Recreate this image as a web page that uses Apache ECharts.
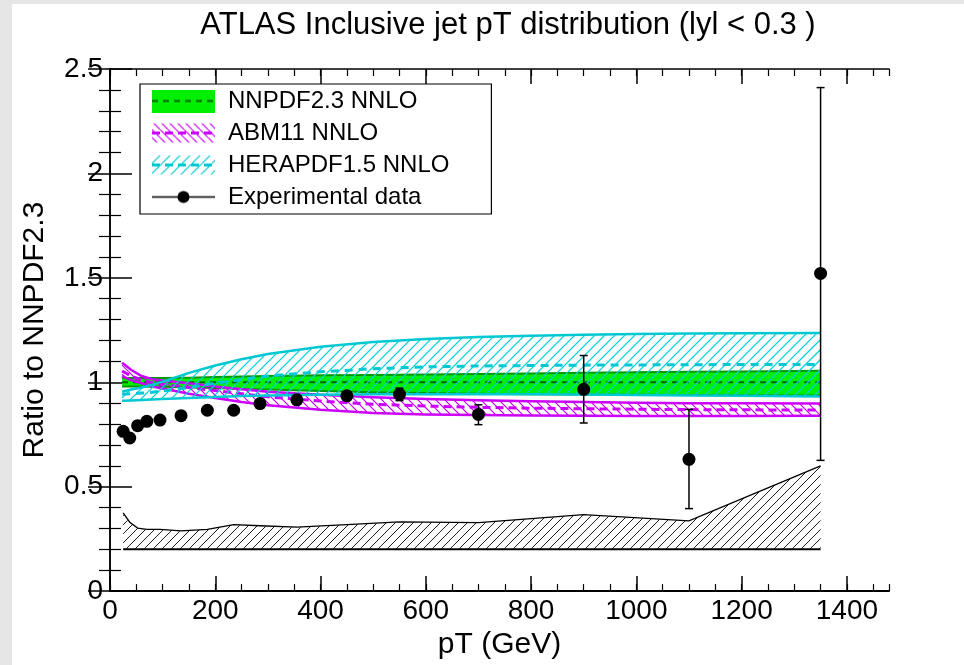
<!DOCTYPE html>
<html><head><meta charset="utf-8">
<script src="https://cdn.jsdelivr.net/npm/echarts@6/dist/echarts.min.js"></script>
<style>html,body{margin:0;padding:0;background:#fff}#c{width:964px;height:665px}</style>
</head><body><div id="c"></div>
<script>
// ---------- data ----------
const bandPt = [23, 40, 60, 80, 100, 150, 200, 250, 300, 400, 500, 600, 700, 800, 900, 1000, 1100, 1200, 1350];
const nnpdfUp  = [1.02, 1.02, 1.02, 1.02, 1.02, 1.022, 1.025, 1.027, 1.03, 1.033, 1.035, 1.037, 1.04, 1.042, 1.045, 1.048, 1.05, 1.052, 1.055];
const nnpdfMid = [1.0, 1.0, 1.0, 1.0, 1.0, 1.0, 1.0, 1.0, 1.0, 1.0, 1.0, 1.0, 1.0, 1.0, 1.0, 1.0, 1.0, 1.0, 1.0];
const nnpdfLo  = [0.98, 0.98, 0.98, 0.979, 0.978, 0.975, 0.972, 0.968, 0.965, 0.958, 0.952, 0.948, 0.945, 0.943, 0.941, 0.94, 0.939, 0.938, 0.937];
const abmUp  = [1.093, 1.06, 1.03, 1.015, 1.008, 0.995, 0.98, 0.967, 0.955, 0.94, 0.928, 0.92, 0.914, 0.909, 0.905, 0.902, 0.9, 0.899, 0.898];
const abmMid = [1.054, 1.03, 1.01, 0.998, 0.99, 0.975, 0.96, 0.945, 0.93, 0.91, 0.895, 0.886, 0.88, 0.876, 0.873, 0.871, 0.869, 0.868, 0.867];
const abmLo  = [1.03, 1.01, 0.995, 0.98, 0.97, 0.945, 0.925, 0.905, 0.89, 0.868, 0.853, 0.846, 0.843, 0.841, 0.84, 0.839, 0.839, 0.839, 0.84];
const heraUp  = [0.955, 0.965, 0.975, 0.988, 1.003, 1.045, 1.08, 1.11, 1.135, 1.17, 1.193, 1.207, 1.217, 1.223, 1.228, 1.231, 1.233, 1.235, 1.236];
const heraMid = [0.943, 0.945, 0.948, 0.952, 0.958, 0.975, 0.995, 1.013, 1.03, 1.05, 1.065, 1.074, 1.078, 1.08, 1.082, 1.083, 1.084, 1.085, 1.085];
const heraLo  = [0.912, 0.913, 0.915, 0.917, 0.92, 0.925, 0.93, 0.934, 0.937, 0.94, 0.942, 0.943, 0.943, 0.942, 0.941, 0.939, 0.937, 0.935, 0.932];

const dataPt  = [25, 37.5, 52.5, 70, 95, 135, 185, 235, 285, 355, 450, 550, 700, 900, 1100, 1350];
const dataVal = [0.765, 0.733, 0.792, 0.813, 0.819, 0.840, 0.866, 0.866, 0.898, 0.916, 0.935, 0.942, 0.846, 0.966, 0.631, 1.521];
const errUp   = [0.005, 0.005, 0.005, 0.005, 0.005, 0.005, 0.005, 0.006, 0.008, 0.01, 0.012, 0.03, 0.046, 0.162, 0.239, 0.89];
const errDown = [0.005, 0.005, 0.005, 0.005, 0.005, 0.005, 0.005, 0.006, 0.008, 0.01, 0.012, 0.03, 0.049, 0.161, 0.236, 0.895];

const systPt  = [25, 37.5, 52.5, 70, 95, 135, 185, 235, 285, 355, 450, 550, 700, 900, 1100, 1350];
const systTop = [0.375, 0.33, 0.302, 0.296, 0.296, 0.288, 0.296, 0.318, 0.313, 0.306, 0.318, 0.331, 0.328, 0.366, 0.336, 0.60];
const systBase = 0.2;

const xTicks = [0, 200, 400, 600, 800, 1000, 1200, 1400];
const yTicks = [0, 0.5, 1, 1.5, 2, 2.5];

// ---------- styles ----------
const FONT = 'Liberation Sans, Arial, Helvetica, sans-serif';
const CYAN = '#00c8d2', MAG = '#cc00ff', GREEN = '#00ee00', DKGREEN = '#009a00';

function hatchCanvas(color, dir, size, lw) {
  const c = document.createElement('canvas'); c.width = size; c.height = size;
  const g = c.getContext('2d');
  g.strokeStyle = color; g.lineWidth = lw;
  g.beginPath();
  for (let k = -1; k <= 1; k++) {
    if (dir === '/') { g.moveTo(k * size, size); g.lineTo(k * size + size, 0); }
    else { g.moveTo(k * size, 0); g.lineTo(k * size + size, size); }
  }
  g.stroke();
  return c;
}

function iconCanvas(kind) {
  const W = 63, H = 23;
  const c = document.createElement('canvas'); c.width = W; c.height = H;
  const g = c.getContext('2d');
  if (kind === 'nnpdf') {
    g.fillStyle = GREEN; g.fillRect(0, 0, W, H);
    g.strokeStyle = '#006400'; g.lineWidth = 2; g.setLineDash([6, 5]);
    g.beginPath(); g.moveTo(0, H / 2); g.lineTo(W, H / 2); g.stroke();
  } else if (kind === 'abm' || kind === 'hera') {
    const pat = g.createPattern(kind === 'abm' ? hatchCanvas(MAG, '\\', 8, 1.2) : hatchCanvas(CYAN, '/', 10, 1.2), 'repeat');
    g.fillStyle = pat; g.fillRect(0, 2, W, H - 4);
    g.strokeStyle = kind === 'abm' ? MAG : CYAN; g.lineWidth = 3; g.setLineDash([8, 5]);
    g.beginPath(); g.moveTo(0, H / 2); g.lineTo(W, H / 2); g.stroke();
  } else {
    g.strokeStyle = '#000'; g.lineWidth = 1.5;
    g.beginPath(); g.moveTo(0, H / 2); g.lineTo(W, H / 2); g.stroke();
    g.fillStyle = '#000'; g.beginPath(); g.arc(W / 2, H / 2, 6, 0, Math.PI * 2); g.fill();
  }
  return 'image://' + c.toDataURL();
}

// diagonal hatch lines between two pixel polylines sharing the same x samples
function hatchPath(top, bot, dir, s) {
  const x0 = top[0][0], xN = top[top.length - 1][0];
  const step = 0.5, n = Math.ceil((xN - x0) / step);
  const X = [], T = [], B = [];
  let j = 0;
  for (let k = 0; k <= n; k++) {
    const px = Math.min(x0 + k * step, xN);
    while (j < top.length - 2 && top[j + 1][0] < px) j++;
    const t = (px - top[j][0]) / (top[j + 1][0] - top[j][0]);
    X.push(px);
    T.push(top[j][1] + t * (top[j + 1][1] - top[j][1]));
    B.push(bot[j][1] + t * (bot[j + 1][1] - bot[j][1]));
  }
  const cOf = (px, py) => dir === '/' ? py + px : py - px;
  const fy = (c, px) => dir === '/' ? c - px : c + px;
  let cmin = Infinity, cmax = -Infinity;
  for (let k = 0; k < X.length; k++) {
    cmin = Math.min(cmin, cOf(X[k], T[k]), cOf(X[k], B[k]));
    cmax = Math.max(cmax, cOf(X[k], T[k]), cOf(X[k], B[k]));
  }
  let d = '';
  for (let c = Math.floor(cmin / s) * s; c <= cmax; c += s) {
    let start = -1;
    for (let k = 0; k <= X.length; k++) {
      let inside = false;
      if (k < X.length) { const py = fy(c, X[k]); inside = py >= T[k] && py <= B[k]; }
      if (inside && start < 0) start = k;
      if (!inside && start >= 0) {
        const e = k - 1;
        if (e > start) d += 'M' + X[start].toFixed(2) + ' ' + fy(c, X[start]).toFixed(2) + 'L' + X[e].toFixed(2) + ' ' + fy(c, X[e]).toFixed(2);
        start = -1;
      }
    }
  }
  return d || 'M0 0';
}

function bandSeries(name, xs, up, mid, lo, opt) {
  return {
    name: name, type: 'custom', xAxisIndex: 0, yAxisIndex: 0, clip: true,
    data: [0],
    renderItem: function (params, api) {
      const top = xs.map((x, i) => api.coord([x, up[i]]));
      const bot = xs.map((x, i) => api.coord([x, lo[i]]));
      const cen = xs.map((x, i) => api.coord([x, mid[i]]));
      const children = [];
      if (opt.fill) {
        children.push({ type: 'polygon', shape: { points: top.concat(bot.slice().reverse()) }, style: { fill: opt.fill, stroke: null } });
      }
      if (opt.hatch) {
        children.push({ type: 'path', shape: { pathData: hatchPath(top, bot, opt.hatch, opt.hatchSpacing) },
          style: { fill: null, stroke: opt.hatchColor, lineWidth: opt.hatchWidth } });
      }
      children.push({ type: 'polyline', shape: { points: top }, style: { fill: null, stroke: opt.edge, lineWidth: opt.edgeW } });
      children.push({ type: 'polyline', shape: { points: bot }, style: { fill: null, stroke: opt.edge, lineWidth: opt.edgeW } });
      children.push({ type: 'polyline', shape: { points: cen }, style: { fill: null, stroke: opt.dashColor, lineWidth: opt.dashW, lineDash: opt.dash } });
      return { type: 'group', children: children };
    }
  };
}

const chart = echarts.init(document.getElementById('c'), null, { renderer: 'canvas' });

const xBase = { type: 'value', min: 0, max: 1480, gridIndex: 0, splitLine: { show: false } };
const yBase = { type: 'value', min: 0, max: 2.5, gridIndex: 0, splitLine: { show: false } };

const option = {
  backgroundColor: '#ffffff',
  animation: false,
  graphic: [
    { type: 'rect', left: 0, top: 0, shape: { width: 12, height: 665 }, style: { fill: '#e6e6e6' }, z: -10, silent: true },
    { type: 'rect', left: 0, top: 0, shape: { width: 964, height: 4 }, style: { fill: '#e6e6e6' }, z: -10, silent: true }
  ],
  title: {
    text: 'ATLAS Inclusive jet pT distribution (lyl < 0.3 )',
    left: 503, top: 5, textAlign: 'center',
    textStyle: { fontFamily: FONT, fontSize: 31, fontWeight: 'normal', color: '#000' }
  },
  legend: {
    orient: 'vertical', left: 140, top: 84,
    padding: [5, 42, 5, 12], itemGap: 8, itemWidth: 63, itemHeight: 23,
    backgroundColor: '#fff', borderColor: '#000', borderWidth: 1.2,
    textStyle: { fontFamily: FONT, fontSize: 24, color: '#000', padding: [0, 0, 0, 8] },
    selectedMode: false,
    data: [
      { name: 'NNPDF2.3 NNLO', icon: iconCanvas('nnpdf') },
      { name: 'ABM11 NNLO', icon: iconCanvas('abm') },
      { name: 'HERAPDF1.5 NNLO', icon: iconCanvas('hera') },
      { name: 'Experimental data', icon: iconCanvas('data') }
    ]
  },
  grid: { left: 110, top: 69, right: 75, bottom: 70, containLabel: false },
  xAxis: [
    Object.assign({}, xBase, {
      position: 'bottom', interval: 200,
      axisLine: { show: true, lineStyle: { color: '#000', width: 2 } },
      axisTick: { show: true, inside: true, length: 15, lineStyle: { color: '#000', width: 1.5 }, customValues: xTicks },
      axisLabel: { show: true, margin: 6, fontFamily: FONT, fontSize: 28, color: '#000', customValues: xTicks,
        formatter: (v) => String(v) },
      name: 'pT (GeV)', nameLocation: 'middle', nameGap: 28,
      nameTextStyle: { fontFamily: FONT, fontSize: 30, color: '#000' }
    }),
    Object.assign({}, xBase, {
      position: 'bottom', interval: 50,
      axisLine: { show: false },
      axisTick: { show: true, inside: true, length: 7, lineStyle: { color: '#000', width: 1.2 } },
      axisLabel: { show: false }
    }),
    Object.assign({}, xBase, {
      position: 'top', interval: 200,
      axisLine: { show: true, lineStyle: { color: '#000', width: 1.5 } },
      axisTick: { show: true, inside: true, length: 15, lineStyle: { color: '#000', width: 1.5 }, customValues: xTicks },
      axisLabel: { show: false }
    }),
    Object.assign({}, xBase, {
      position: 'top', interval: 50,
      axisLine: { show: false },
      axisTick: { show: true, inside: true, length: 7, lineStyle: { color: '#000', width: 1.2 } },
      axisLabel: { show: false }
    })
  ],
  yAxis: [
    Object.assign({}, yBase, {
      position: 'left', interval: 0.5,
      axisLine: { show: true, lineStyle: { color: '#000', width: 1.5 } },
      axisTick: { show: true, inside: true, length: 22, lineStyle: { color: '#000', width: 1.5 } },
      minorTick: { show: true, splitNumber: 5, length: 11, lineStyle: { color: '#000', width: 1.2 } },
      axisLabel: { show: true, margin: 7, fontFamily: FONT, fontSize: 28, color: '#000', customValues: yTicks },
      name: 'Ratio to NNPDF2.3', nameLocation: 'middle', nameGap: 60, nameRotate: 90,
      nameTextStyle: { fontFamily: FONT, fontSize: 30, color: '#000' }
    }),
    Object.assign({}, yBase, {
      position: 'right', interval: 0.5,
      axisLine: { show: true, lineStyle: { color: '#000', width: 1.5 } },
      axisTick: { show: true, inside: true, length: 22, lineStyle: { color: '#000', width: 1.5 } },
      minorTick: { show: true, splitNumber: 5, length: 11, lineStyle: { color: '#000', width: 1.2 } },
      axisLabel: { show: false }
    })
  ],
  series: [
    bandSeries('NNPDF2.3 NNLO', bandPt, nnpdfUp, nnpdfMid, nnpdfLo,
      { fill: GREEN, edge: DKGREEN, edgeW: 2, dashColor: '#006400', dashW: 2, dash: [6, 5] }),
    bandSeries('ABM11 NNLO', bandPt, abmUp, abmMid, abmLo,
      { hatch: '\\', hatchSpacing: 9, hatchColor: MAG, hatchWidth: 1.2, edge: MAG, edgeW: 2.5, dashColor: MAG, dashW: 3, dash: [8, 5] }),
    bandSeries('HERAPDF1.5 NNLO', bandPt, heraUp, heraMid, heraLo,
      { hatch: '/', hatchSpacing: 10, hatchColor: '#00d0da', hatchWidth: 1.3, edge: CYAN, edgeW: 2.5, dashColor: CYAN, dashW: 3, dash: [8, 6] }),
    {
      name: 'syst', type: 'custom', xAxisIndex: 0, yAxisIndex: 0, data: [0],
      renderItem: function (params, api) {
        const top = systPt.map((x, i) => api.coord([x, systTop[i]]));
        const base = systPt.map((x) => api.coord([x, systBase]));
        return {
          type: 'group', children: [
            { type: 'path', shape: { pathData: hatchPath(top, base, '/', 9) }, style: { fill: null, stroke: '#000', lineWidth: 0.9 } },
            { type: 'polyline', shape: { points: top }, style: { fill: null, stroke: '#000', lineWidth: 1.3 } },
            { type: 'polyline', shape: { points: [base[0], base[base.length - 1]] }, style: { fill: null, stroke: '#000', lineWidth: 2 } }
          ]
        };
      }
    },
    {
      name: 'errors', type: 'custom', xAxisIndex: 0, yAxisIndex: 0, z: 5,
      data: dataPt.map((x, i) => [x, dataVal[i] - errDown[i], dataVal[i] + errUp[i]]),
      renderItem: function (params, api) {
        const lo = api.coord([api.value(0), api.value(1)]);
        const hi = api.coord([api.value(0), api.value(2)]);
        const w = 4;
        return {
          type: 'group', children: [
            { type: 'line', shape: { x1: lo[0], y1: lo[1], x2: hi[0], y2: hi[1] }, style: { stroke: '#000', lineWidth: 1.5 } },
            { type: 'line', shape: { x1: lo[0] - w, y1: lo[1], x2: lo[0] + w, y2: lo[1] }, style: { stroke: '#000', lineWidth: 1.5 } },
            { type: 'line', shape: { x1: hi[0] - w, y1: hi[1], x2: hi[0] + w, y2: hi[1] }, style: { stroke: '#000', lineWidth: 1.5 } }
          ]
        };
      }
    },
    {
      name: 'Experimental data', type: 'scatter', xAxisIndex: 0, yAxisIndex: 0, z: 6,
      symbol: 'circle', symbolSize: 13, itemStyle: { color: '#000', opacity: 1 },
      data: dataPt.map((x, i) => [x, dataVal[i]])
    }
  ]
};
chart.setOption(option);
</script>
</body></html>
